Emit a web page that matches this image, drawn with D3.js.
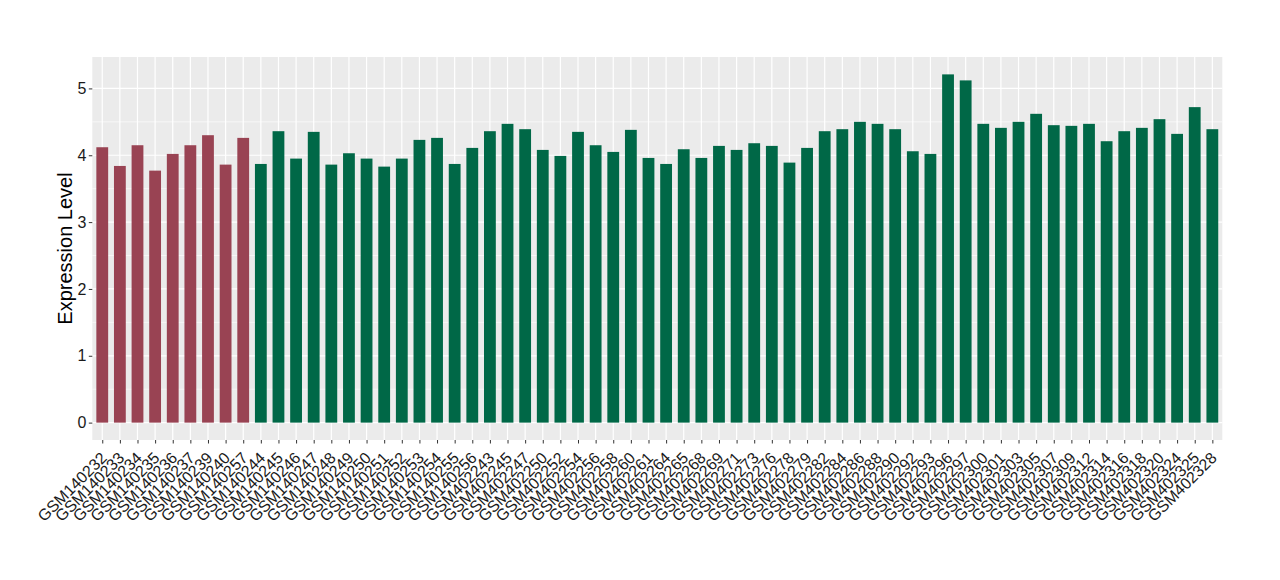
<!DOCTYPE html>
<html><head><meta charset="utf-8">
<script src="https://cdn.jsdelivr.net/npm/d3@7"></script>
<style>body{margin:0;background:#fff}svg{display:block}</style>
</head><body>
<svg id="c" width="1280" height="580"></svg>
<script>
const samples = ["GSM140232","GSM140233","GSM140234","GSM140235","GSM140236","GSM140237","GSM140239","GSM140240","GSM140257",
"GSM140244","GSM140245","GSM140246","GSM140247","GSM140248","GSM140249","GSM140250","GSM140251","GSM140252","GSM140253","GSM140254","GSM140255","GSM140256",
"GSM402243","GSM402245","GSM402247","GSM402250","GSM402252","GSM402254","GSM402256","GSM402258","GSM402260","GSM402261","GSM402264","GSM402265","GSM402268","GSM402269","GSM402271","GSM402273","GSM402276","GSM402278","GSM402279","GSM402282","GSM402284","GSM402286","GSM402288","GSM402290","GSM402292","GSM402293","GSM402296","GSM402297","GSM402300","GSM402301","GSM402303","GSM402305","GSM402307","GSM402309","GSM402312","GSM402314","GSM402316","GSM402318","GSM402320","GSM402324","GSM402325","GSM402328"];
const values = [4.12,3.84,4.15,3.77,4.02,4.15,4.30,3.86,4.26,
3.87,4.36,3.95,4.35,3.86,4.03,3.95,3.83,3.95,4.23,4.26,3.87,4.11,
4.36,4.47,4.39,4.08,3.99,4.35,4.15,4.05,4.38,3.96,3.87,4.09,3.96,4.14,4.08,4.18,4.14,3.89,4.11,4.36,4.39,4.50,4.47,4.39,4.06,4.02,5.21,5.12,4.47,4.41,4.50,4.62,4.45,4.44,4.47,4.21,4.36,4.41,4.54,4.32,4.72,4.39];
const groups = samples.map((s,i)=> i<9 ? "A" : "B");
const yTicks = [0,1,2,3,4,5];
const colors = {A:"#994353", B:"#006847"};

const svg = d3.select("#c");
const L=92.3, R=1222.3, T=57, B=440;
const x = d3.scalePoint().domain(samples).range([L,R]).padding(0.565);
const step = x.step();
const y = d3.scaleLinear().domain([-0.26, 5.47]).range([B,T]);

svg.append("rect").attr("x",L).attr("y",T).attr("width",R-L).attr("height",B-T).attr("fill","#EBEBEB");
const minor = [0.5,1.5,2.5,3.5,4.5];
svg.append("g").selectAll("line").data(minor).join("line")
  .attr("x1",L).attr("x2",R).attr("y1",d=>y(d)).attr("y2",d=>y(d))
  .attr("stroke","#fff").attr("stroke-width",0.6);
svg.append("g").selectAll("line").data(yTicks).join("line")
  .attr("x1",L).attr("x2",R).attr("y1",d=>y(d)).attr("y2",d=>y(d))
  .attr("stroke","#fff").attr("stroke-width",1.2);
svg.append("g").selectAll("line").data(samples).join("line")
  .attr("x1",d=>x(d)).attr("x2",d=>x(d)).attr("y1",T).attr("y2",B)
  .attr("stroke","#fff").attr("stroke-width",1.2);

const bw = step*0.67;
svg.append("g").selectAll("rect").data(samples).join("rect")
  .attr("x",(d)=>x(d)-bw/2).attr("width",bw)
  .attr("y",(d,i)=>y(values[i])).attr("height",(d,i)=>y(0)-y(values[i]))
  .attr("fill",(d,i)=>colors[groups[i]]);

const yAxis = svg.append("g").attr("transform",`translate(${L},0)`)
  .call(d3.axisLeft(y).tickValues(yTicks).tickSize(3.5).tickPadding(2.5).tickFormat(d3.format("d")));
yAxis.select(".domain").remove();
yAxis.selectAll("line").attr("stroke","#333");
yAxis.selectAll("text").attr("font-family","Liberation Sans, Arial, sans-serif").attr("font-size",16).attr("fill","#1a1a1a");

const xAxis = svg.append("g").attr("transform",`translate(0,${B})`)
  .call(d3.axisBottom(x).tickSize(3.5).tickPadding(2));
xAxis.select(".domain").remove();
xAxis.selectAll("line").attr("stroke","#333");
xAxis.selectAll("text").attr("font-family","Liberation Sans, Arial, sans-serif").attr("font-size",16).attr("fill","#1a1a1a")
  .attr("text-anchor","end").attr("dy",null).attr("y",0)
  .attr("transform","translate(5,19) rotate(-45)");

svg.append("text").attr("transform",`translate(72,${(T+B)/2}) rotate(-90)`)
  .attr("text-anchor","middle").attr("font-family","Liberation Sans, Arial, sans-serif").attr("font-size",20)
  .attr("fill","#000").text("Expression Level");
</script>
</body></html>
